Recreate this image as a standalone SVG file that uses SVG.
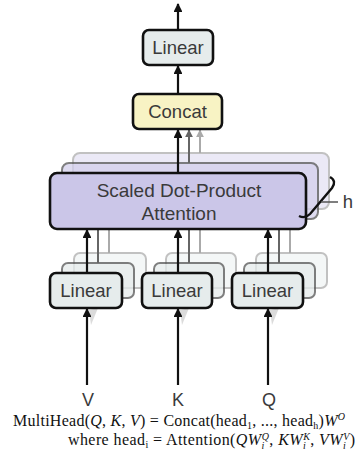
<svg xmlns="http://www.w3.org/2000/svg" width="358" height="468" viewBox="0 0 358 468">
<style>
.bx{stroke:#111;stroke-width:2.6}
.lin{fill:#e6ecec}
.sh1{fill:#e6ecec;stroke:#555;stroke-width:2;opacity:0.75}
.sh2{fill:#eef2f2;stroke:#999;stroke-width:2;opacity:0.6}
.ash1{fill:#d3cfec;stroke:#555;stroke-width:2;opacity:0.75}
.ash2{fill:#dedbf1;stroke:#999;stroke-width:2;opacity:0.6}
.lbl{font-family:"Liberation Sans",Arial,sans-serif;font-size:18.5px;fill:#3a3a3a;text-anchor:middle}
.att{font-family:"Liberation Sans",Arial,sans-serif;font-size:19px;fill:#3a3a3a;text-anchor:middle}
.io{font-family:"Liberation Sans",Arial,sans-serif;font-size:18px;fill:#3a3a3a;text-anchor:middle}
.ar{stroke:#111;stroke-width:2.2;fill:none}
.g1{stroke:#666;stroke-width:2;fill:none}
.g2{stroke:#aaa;stroke-width:2;fill:none}
.f{font-family:"Liberation Serif","Times New Roman",serif;font-size:16px;fill:#111}
.it{font-style:italic}
</style>
<defs>
<marker id="ah" viewBox="0 0 10 10" refX="9" refY="5" markerWidth="4" markerHeight="4" orient="auto" markerUnits="strokeWidth"><path d="M0,0 L10,5 L0,10 Z" fill="#111"/></marker>
<marker id="ahg" viewBox="0 0 10 10" refX="9" refY="5" markerWidth="4" markerHeight="4" orient="auto" markerUnits="strokeWidth"><path d="M0,0 L10,5 L0,10 Z" fill="#666"/></marker>
<marker id="ahl" viewBox="0 0 10 10" refX="9" refY="5" markerWidth="4" markerHeight="4" orient="auto" markerUnits="strokeWidth"><path d="M0,0 L10,5 L0,10 Z" fill="#aaa"/></marker>
</defs>

<g id="shadows">
  <rect class="sh2" x="74" y="253" width="72" height="35" rx="6"/>
  <rect class="sh1" x="62" y="263" width="72" height="35" rx="6"/>
  <rect class="sh2" x="166" y="253" width="70" height="35" rx="6"/>
  <rect class="sh1" x="154" y="263" width="70" height="35" rx="6"/>
  <rect class="sh2" x="256" y="253" width="71" height="35" rx="6"/>
  <rect class="sh1" x="244" y="263" width="71" height="35" rx="6"/>
  <rect class="ash2" x="73" y="153" width="256" height="56" rx="7"/>
  <rect class="ash1" x="62" y="163" width="256" height="56" rx="7"/>
</g>

<g id="connectors">
  <line class="ar" x1="178" y1="30" x2="178" y2="4" marker-end="url(#ah)"/>
  <line class="ar" x1="178" y1="94" x2="178" y2="66" marker-end="url(#ah)"/>
  <line class="g2" x1="200" y1="153" x2="200" y2="130" marker-end="url(#ahl)"/>
  <line class="g1" x1="189" y1="163" x2="189" y2="130" marker-end="url(#ahg)"/>
  <line class="ar" x1="178" y1="173" x2="178" y2="130" marker-end="url(#ah)"/>
  <line class="g2" x1="109" y1="253" x2="109" y2="229"/>
  <line class="g1" x1="98" y1="263" x2="98" y2="229"/>
  <line class="ar" x1="87" y1="273" x2="87" y2="230" marker-end="url(#ah)"/>
  <line class="g2" x1="200" y1="253" x2="200" y2="229"/>
  <line class="g1" x1="189" y1="263" x2="189" y2="229"/>
  <line class="ar" x1="178" y1="273" x2="178" y2="230" marker-end="url(#ah)"/>
  <line class="g2" x1="290" y1="253" x2="290" y2="229"/>
  <line class="g1" x1="279" y1="263" x2="279" y2="229"/>
  <line class="ar" x1="268" y1="273" x2="268" y2="230" marker-end="url(#ah)"/>
  <polygon points="89,310 98,308 91,325" fill="#888" opacity="0.3"/>
  <polygon points="180,310 189,308 182,325" fill="#888" opacity="0.3"/>
  <polygon points="270,310 279,308 272,325" fill="#888" opacity="0.3"/>
  <line class="ar" x1="87" y1="385" x2="87" y2="309" marker-end="url(#ah)"/>
  <line class="ar" x1="178" y1="385" x2="178" y2="309" marker-end="url(#ah)"/>
  <line class="ar" x1="268" y1="385" x2="268" y2="309" marker-end="url(#ah)"/>
</g>

<g id="linear-out">
  <rect class="bx lin" x="143" y="30" width="70" height="35" rx="6"/>
  <text class="lbl" x="178" y="54">Linear</text>
</g>
<g id="concat">
  <rect class="bx" fill="#f8f3c4" x="133" y="94" width="89" height="35" rx="6"/>
  <text class="lbl" x="177.5" y="118">Concat</text>
</g>
<g id="attention">
  <rect class="bx" fill="#cbc6e8" x="50" y="173" width="256" height="56" rx="7"/>
  <text class="att" x="179" y="197">Scaled Dot-Product</text>
  <text class="att" x="179" y="220">Attention</text>
</g>
<g id="h-label">
  <path d="M330,177 Q337,181 332,188 L310,214 Q305,219 299,216" stroke="#111" stroke-width="2.4" fill="none"/>
  <line x1="321" y1="202" x2="338" y2="202" stroke="#555" stroke-width="1.5"/>
  <text class="lbl" x="348" y="208">h</text>
</g>
<g id="linear-v">
  <rect class="bx lin" x="50" y="273" width="72" height="35" rx="6"/>
  <text class="lbl" x="86" y="297">Linear</text>
</g>
<g id="linear-k">
  <rect class="bx lin" x="142" y="273" width="70" height="35" rx="6"/>
  <text class="lbl" x="177" y="297">Linear</text>
</g>
<g id="linear-q">
  <rect class="bx lin" x="232" y="273" width="71" height="35" rx="6"/>
  <text class="lbl" x="267.5" y="297">Linear</text>
</g>
<g id="inputs">
  <text class="io" x="88" y="406">V</text>
  <text class="io" x="178" y="406">K</text>
  <text class="io" x="269" y="406">Q</text>
</g>
<g id="formula">
  <text class="f" x="13" y="426" textLength="332" lengthAdjust="spacing">MultiHead(<tspan class="it">Q</tspan>, <tspan class="it">K</tspan>, <tspan class="it">V</tspan>) = Concat(head<tspan font-size="10" dy="3">1</tspan><tspan dy="-3">, ..., head</tspan><tspan font-size="10" dy="3">h</tspan><tspan dy="-3">)</tspan><tspan class="it">W</tspan><tspan class="it" font-size="10" dy="-6">O</tspan></text>
  <text class="f" x="68" y="445" textLength="287" lengthAdjust="spacing">where head<tspan font-size="10" dy="3">i</tspan><tspan dy="-3"> = Attention(</tspan><tspan class="it">QW</tspan><tspan class="it" font-size="10" dy="4">i</tspan><tspan class="it" font-size="10" dx="-3" dy="-9">Q</tspan><tspan dy="5">, </tspan><tspan class="it">KW</tspan><tspan class="it" font-size="10" dy="4">i</tspan><tspan class="it" font-size="10" dx="-3" dy="-9">K</tspan><tspan dy="5">, </tspan><tspan class="it">VW</tspan><tspan class="it" font-size="10" dy="4">i</tspan><tspan class="it" font-size="10" dx="-3" dy="-9">V</tspan><tspan dy="5">)</tspan></text>
</g>
</svg>
